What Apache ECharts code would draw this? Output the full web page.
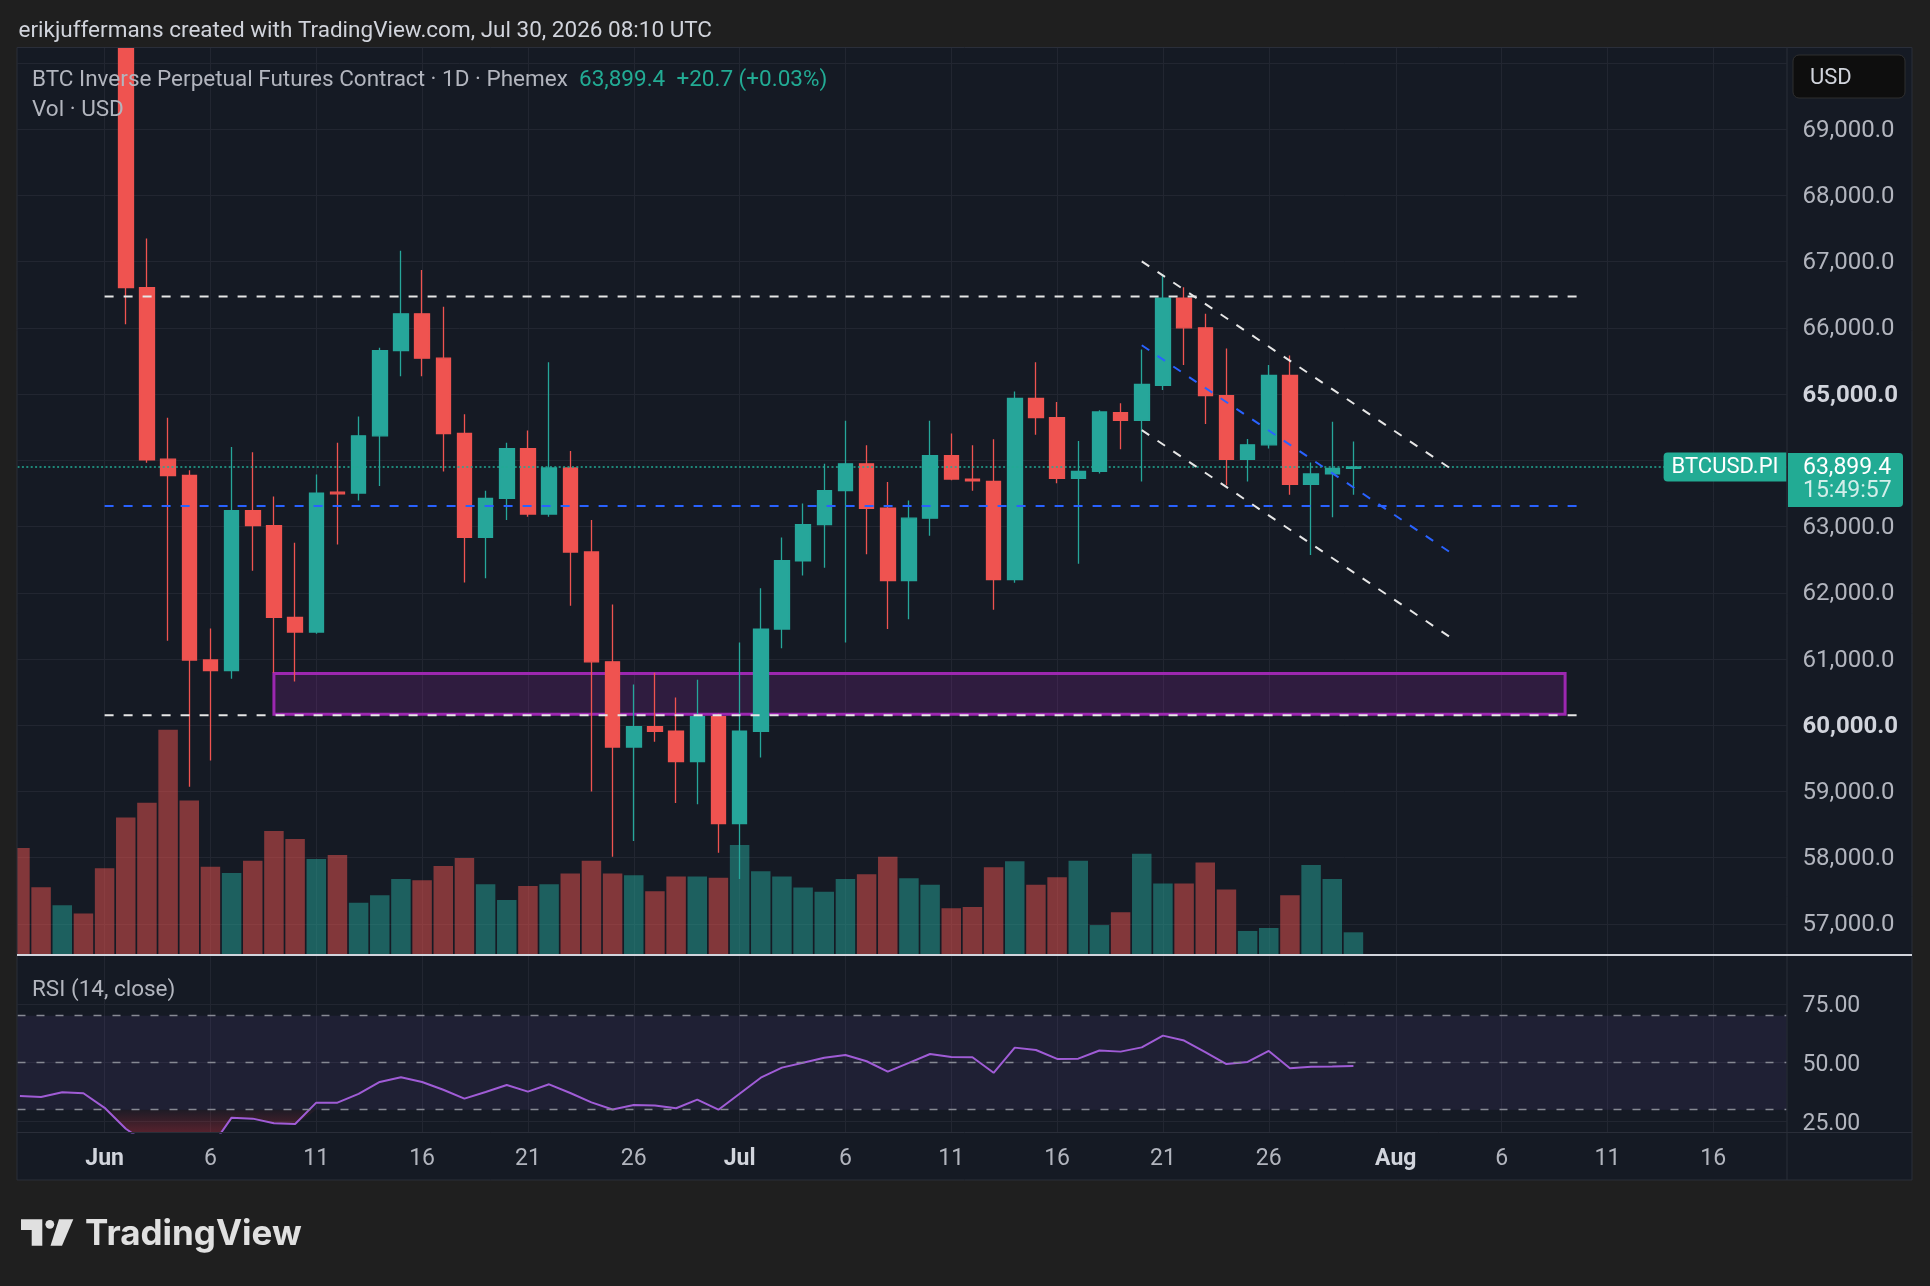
<!DOCTYPE html>
<html>
<head>
<meta charset="utf-8">
<title>BTCUSD.PI 1D</title>
<script src="https://cdn.jsdelivr.net/npm/echarts@6.0.0/dist/echarts.min.js"></script>
<style>
html, body { margin: 0; padding: 0; background: #1f1f1f; }
#main { width: 1930px; height: 1286px; }
</style>
</head>
<body>
<div id="main"></div>
<script>
// daily candles, May 28 .. Jul 30
var dates = [
  '2026-05-28','2026-05-29','2026-05-30','2026-05-31',
  '2026-06-01','2026-06-02','2026-06-03','2026-06-04','2026-06-05','2026-06-06','2026-06-07','2026-06-08','2026-06-09','2026-06-10',
  '2026-06-11','2026-06-12','2026-06-13','2026-06-14','2026-06-15','2026-06-16','2026-06-17','2026-06-18','2026-06-19','2026-06-20',
  '2026-06-21','2026-06-22','2026-06-23','2026-06-24','2026-06-25','2026-06-26','2026-06-27','2026-06-28','2026-06-29','2026-06-30',
  '2026-07-01','2026-07-02','2026-07-03','2026-07-04','2026-07-05','2026-07-06','2026-07-07','2026-07-08','2026-07-09','2026-07-10',
  '2026-07-11','2026-07-12','2026-07-13','2026-07-14','2026-07-15','2026-07-16','2026-07-17','2026-07-18','2026-07-19','2026-07-20',
  '2026-07-21','2026-07-22','2026-07-23','2026-07-24','2026-07-25','2026-07-26','2026-07-27','2026-07-28','2026-07-29','2026-07-30'
];
var opens = [
  72600, 72000, 71500, 71800,
  71400, 70950, 66610, 64018, 63771, 60985, 60826, 63242, 63013, 61628,
  61408, 63520, 63506, 64370, 65658, 66213, 65543, 64406, 62836, 63427,
  64176, 63189, 63885, 62616, 60958, 59671, 59980, 59909, 59450, 60129,
  58516, 59909, 61452, 62484, 63030, 63542, 63947, 63277, 62184, 63127,
  64071, 63718, 63683, 62201, 64935, 64644, 63727, 63833, 64720, 64605,
  65134, 66451, 66001, 64977, 64016, 64235, 65283, 63638, 63795, 63878.7
];
var closes = [
  72000, 71500, 71800, 71400,
  70950, 66610, 64009, 63771, 60985, 60826, 63242, 63013, 61628, 61408,
  63506, 63495, 64370, 65658, 66213, 65543, 64406, 62836, 63427, 64176,
  63189, 63885, 62616, 60958, 59671, 59980, 59909, 59450, 60129, 58516,
  59909, 61452, 62484, 63030, 63542, 63947, 63277, 62184, 63127, 64071,
  63718, 63690, 62201, 64935, 64644, 63727, 63833, 64732, 64605, 65147,
  66451, 66001, 64977, 64016, 64235, 65283, 63638, 63795, 63878.7, 63899.4
];
var lows = [
  71600, 71200, 71300, 71100,
  70600, 66054, 63965, 61276, 59071, 59468, 60702, 62334, 60791, 60659,
  61380, 62730, 63392, 63612, 65270, 65270, 63833, 62157, 62219, 63101,
  63150, 63150, 61805, 59000, 58013, 58251, 59750, 58824, 58807, 58075,
  57678, 59512, 61161, 62263, 62378, 61249, 62581, 61452, 61602, 62863,
  63700, 63542, 61743, 62150, 64388, 63656, 62439, 63800, 64167, 63681,
  65062, 65440, 64549, 63623, 63681, 64178, 63481, 62570, 63139, 63481
];
var highs = [
  72900, 72300, 72100, 72000,
  71600, 71100, 67350, 64644, 63850, 61461, 64203, 64124, 63453, 62757,
  63788, 64265, 64661, 65702, 67165, 66874, 66319, 64697, 63542, 64265,
  64450, 65481, 64141, 63101, 61822, 60614, 60791, 60420, 60685, 60173,
  61249, 62069, 62836, 63348, 63947, 64600, 64229, 63674, 63392, 64600,
  64406, 64229, 64317, 65040, 65481, 64882, 64291, 64758, 64862, 65673,
  66813, 66615, 66215, 65689, 64322, 65440, 65582, 63966, 64584, 64285
];
var volumes = [
  47.2, 29.9, 21.9, 18.3,
  38.2, 60.6, 67.1, 99.3, 68.1, 38.9, 36.1, 41.5, 54.7, 51.1,
  42.3, 44.1, 23.0, 26.3, 33.5, 33.0, 39.2, 42.8, 31.2, 24.2,
  30.4, 31.2, 35.9, 41.5, 35.9, 35.1, 28.1, 34.6, 34.6, 34.0,
  48.5, 36.9, 34.6, 29.7, 27.9, 33.5, 35.6, 43.3, 33.8, 31.0,
  20.6, 21.2, 38.7, 41.3, 31.0, 34.3, 41.5, 13.2, 18.8, 44.6,
  31.5, 31.5, 40.8, 28.9, 10.6, 11.9, 26.3, 39.7, 33.5, 10.0
];
var rsi = [
  35.8, 35.4, 37.4, 37.0,
  30.8, 21.9, 15.7, 12.0, 12.8, 13.7, 26.6, 26.2, 24.2, 23.9,
  33.0, 33.0, 36.7, 41.8, 43.8, 41.8, 38.5, 34.7, 37.5, 40.5,
  37.7, 40.8, 37.1, 33.1, 30.1, 32.0, 31.8, 30.6, 34.3, 30.0,
  36.8, 43.6, 47.9, 50.0, 52.1, 53.3, 50.6, 46.2, 49.9, 53.7,
  52.4, 52.3, 45.7, 56.4, 55.4, 51.6, 51.7, 55.2, 54.7, 56.5,
  61.5, 59.4, 54.5, 49.4, 50.3, 55.0, 47.6, 48.3, 48.4, 48.6
];

// axis ticks
var timeTicks = ['2026-06-01','2026-06-06','2026-06-11','2026-06-16','2026-06-21','2026-06-26',
  '2026-07-01','2026-07-06','2026-07-11','2026-07-16','2026-07-21','2026-07-26',
  '2026-08-01','2026-08-06','2026-08-11','2026-08-16'];
var priceGrid = [57000, 58000, 59000, 60000, 61000, 62000, 63000, 64000, 65000, 66000, 67000, 68000, 69000, 70000];
var priceLabels = [57000, 58000, 59000, 60000, 61000, 62000, 63000, 64000, 65000, 66000, 67000, 68000, 69000];
var rsiTicks = [25, 50, 75];
var rsiLevels = [70, 50, 30];

// drawings (x in days from Jun 1)
var levels = [66475, 63310, 60150];
var levelSpan = [0, 69.74];
var channelX = [49, 63.68];
var channelUpper = [67006, 63856];
var channelMid = [65738, 62588];
var channelLower = [64456, 61306];
var zoneX = [8, 69];
var zonePrice = [60167, 60780];
var countdown = '15:49:57';

var upColor = '#26a69a', downColor = '#ef5350', lastColor = '#22ab94';
var gridColor = '#222631';
var axisText = '#b2b5be';
var font = 'Roboto';

var day0 = Date.parse('2026-06-01');
function dayOf(s) { return (Date.parse(s) - day0) / 864e5; }
function fmtPrice(v) {
  return v.toLocaleString('en-US', { minimumFractionDigits: 1, maximumFractionDigits: 1 });
}
var months = ['Jan','Feb','Mar','Apr','May','Jun','Jul','Aug','Sep','Oct','Nov','Dec'];

var tickDays = timeTicks.map(dayOf);
var candleData = dates.map(function (d, i) { return [dayOf(d), opens[i], closes[i], lows[i], highs[i]]; });
var volData = dates.map(function (d, i) {
  return {
    value: [dayOf(d), volumes[i]],
    itemStyle: { color: closes[i] >= opens[i] ? 'rgba(38,166,154,0.5)' : 'rgba(239,83,80,0.5)' }
  };
});
var rsiData = dates.map(function (d, i) { return [dayOf(d), rsi[i]]; });
var rsiLowData = dates.map(function (d, i) { return [dayOf(d), Math.min(rsi[i], 30)]; });

var n = closes.length;
var lastClose = closes[n - 1];
var chg = lastClose - closes[n - 2];
var chgText = (chg >= 0 ? '+' : '') + chg.toFixed(1) + ' (' + (chg >= 0 ? '+' : '') + (chg / closes[n - 2] * 100).toFixed(2) + '%)';

// the price tag hides the scale labels it sits on
var shownPriceLabels = priceLabels.filter(function (v) { return Math.abs(v - lastClose) > 500; });

var x0 = -4.115, x1 = 79.46;

function dashed(pts, color) {
  return {
    type: 'line', xAxisIndex: 0, yAxisIndex: 0, data: pts, symbol: 'none', silent: true, z: 6,
    lineStyle: { color: color, width: 2, type: [9, 10] }
  };
}

var drawSeries = [];
levels.forEach(function (p, i) {
  drawSeries.push(dashed([[levelSpan[0], p], [levelSpan[1], p]], i === 1 ? '#2962ff' : '#e6e6e6'));
});
drawSeries.push(dashed([[channelX[0], channelUpper[0]], [channelX[1], channelUpper[1]]], '#e6e6e6'));
drawSeries.push(dashed([[channelX[0], channelMid[0]], [channelX[1], channelMid[1]]], '#2962ff'));
drawSeries.push(dashed([[channelX[0], channelLower[0]], [channelX[1], channelLower[1]]], '#e6e6e6'));

var chart = echarts.init(document.getElementById('main'));

// oversold fill gradient, in pixels of the RSI pane (30 -> pane bottom)
var osTop = 1109.7, osBottom = 1132.5;

var option = {
  animation: false,
  backgroundColor: '#151a24',
  grid: [
    { left: 17.5, top: 47.5, width: 1769, height: 907.5 },
    { left: 17.5, top: 955, width: 1769, height: 177.5 }
  ],
  xAxis: [
    {
      type: 'value', gridIndex: 0, min: x0, max: x1,
      axisLine: { show: false },
      axisTick: { show: false, customValues: tickDays },
      axisLabel: { show: false },
      splitLine: { show: true, lineStyle: { color: gridColor, width: 1 } }
    },
    {
      type: 'value', gridIndex: 1, min: x0, max: x1,
      axisLine: { show: false },
      axisTick: { show: false, customValues: tickDays },
      axisLabel: {
        customValues: tickDays, margin: 15, color: axisText, fontSize: 23, fontFamily: font,
        formatter: function (v) {
          var d = new Date(day0 + Math.round(v) * 864e5);
          if (d.getUTCDate() === 1) return '{m|' + months[d.getUTCMonth()] + '}';
          return String(d.getUTCDate());
        },
        rich: { m: { fontWeight: 'bold', color: '#d1d4dc', fontSize: 23, fontFamily: font } }
      },
      splitLine: { show: true, lineStyle: { color: gridColor, width: 1 } }
    }
  ],
  yAxis: [
    {
      type: 'value', gridIndex: 0, position: 'right', min: 56530, max: 70235,
      axisLine: { show: false },
      axisTick: { show: false, customValues: priceGrid },
      axisLabel: {
        customValues: shownPriceLabels, margin: 16, color: axisText, fontSize: 24, fontFamily: font,
        padding: [3, 0, 0, 0],
        formatter: function (v) {
          return v % 5000 === 0 ? '{b|' + fmtPrice(v) + '}' : fmtPrice(v);
        },
        rich: { b: { fontWeight: 'bold', color: '#d1d4dc', fontSize: 24, fontFamily: font } }
      },
      splitLine: { show: true, lineStyle: { color: gridColor, width: 1 } }
    },
    { type: 'value', gridIndex: 0, min: 0, max: 400, show: false, splitLine: { show: false } },
    {
      type: 'value', gridIndex: 1, position: 'right', min: 20.3, max: 95.8,
      axisLine: { show: false },
      axisTick: { show: false, customValues: rsiTicks },
      axisLabel: {
        customValues: rsiTicks, margin: 16, color: axisText, fontSize: 23, fontFamily: font,
        formatter: function (v) { return '{r|' + v.toFixed(2) + '}'; },
        rich: { r: { color: axisText, fontSize: 23, fontFamily: font, padding: [5, 0, 0, 0] } }
      },
      splitLine: { show: true, lineStyle: { color: gridColor, width: 1 } }
    }
  ],
  series: [
    {
      name: 'Vol', type: 'bar', xAxisIndex: 0, yAxisIndex: 1, data: volData, barWidth: 19.5, z: 1, silent: true
    },
    {
      name: 'BTCUSD.PI', type: 'candlestick', xAxisIndex: 0, yAxisIndex: 0, data: candleData,
      encode: { x: 0, y: [1, 2, 3, 4] }, barWidth: 15, z: 3, clip: true, silent: true,
      itemStyle: { color: upColor, color0: downColor, borderColor: upColor, borderColor0: downColor, borderWidth: 1.3 }
    },
    {
      name: 'last', type: 'line', xAxisIndex: 0, yAxisIndex: 0, data: [], z: 4,
      markLine: {
        silent: true, symbol: 'none', animation: false,
        data: [{
          yAxis: lastClose,
          lineStyle: { color: lastColor, width: 1.5, type: [2, 2.4] },
          label: {
            show: true, position: 'insideEnd', distance: 0, formatter: 'BTCUSD.PI',
            backgroundColor: lastColor, color: '#ffffff', fontSize: 22, fontFamily: font,
            lineHeight: 23, padding: [3, 8, 3, 8], borderRadius: [4, 0, 0, 4]
          }
        }]
      }
    },
    {
      name: 'zone', type: 'line', xAxisIndex: 0, yAxisIndex: 0, data: [], z: 7,
      markArea: {
        silent: true,
        itemStyle: { color: 'rgba(156,39,176,0.2)', borderColor: '#9c27b0', borderWidth: 3 },
        data: [[{ xAxis: zoneX[0], yAxis: zonePrice[1] }, { xAxis: zoneX[1], yAxis: zonePrice[0] }]]
      }
    }
  ].concat(drawSeries).concat([
    {
      name: 'rsiBand', type: 'line', xAxisIndex: 1, yAxisIndex: 2, data: [], z: 1,
      markArea: { silent: true, itemStyle: { color: 'rgba(126,87,194,0.1)' }, data: [[{ yAxis: 30 }, { yAxis: 70 }]] },
      markLine: {
        silent: true, symbol: 'none', label: { show: false },
        lineStyle: { color: '#868993', width: 1.4, type: [8, 11] },
        data: rsiLevels.map(function (v) { return { yAxis: v }; })
      }
    },
    {
      name: 'oversold', type: 'line', xAxisIndex: 1, yAxisIndex: 2, data: rsiLowData, symbol: 'none', z: 2, silent: true,
      lineStyle: { width: 0 },
      areaStyle: {
        origin: 30,
        color: new echarts.graphic.LinearGradient(0, osTop, 0, osBottom, [
          { offset: 0, color: 'rgba(242,54,69,0.06)' },
          { offset: 1, color: 'rgba(242,54,69,0.42)' }
        ], true)
      }
    },
    {
      name: 'RSI', type: 'line', xAxisIndex: 1, yAxisIndex: 2, data: rsiData, symbol: 'none', z: 3, silent: true,
      lineStyle: { color: '#a05cd6', width: 2 }
    }
  ]),
  graphic: [
    { type: 'rect', z: 100, silent: true, shape: { x: 0, y: 0, width: 1930, height: 47.5 }, style: { fill: '#1f1f1f' } },
    { type: 'rect', z: 100, silent: true, shape: { x: 0, y: 1180, width: 1930, height: 106 }, style: { fill: '#1f1f1f' } },
    { type: 'rect', z: 100, silent: true, shape: { x: 0, y: 0, width: 17, height: 1286 }, style: { fill: '#1f1f1f' } },
    { type: 'rect', z: 100, silent: true, shape: { x: 1912, y: 0, width: 18, height: 1286 }, style: { fill: '#1f1f1f' } },
    { type: 'rect', z: 101, silent: true, shape: { x: 17, y: 47.5, width: 1895, height: 1132.5 }, style: { fill: 'none', stroke: '#2a2e39', lineWidth: 1 } },
    { type: 'line', z: 101, silent: true, shape: { x1: 1787, y1: 47.5, x2: 1787, y2: 1180 }, style: { stroke: '#2a2e39', lineWidth: 1 } },
    { type: 'line', z: 101, silent: true, shape: { x1: 17, y1: 1132.5, x2: 1912, y2: 1132.5 }, style: { stroke: '#2a2e39', lineWidth: 1 } },
    { type: 'line', z: 101, silent: true, shape: { x1: 17, y1: 955, x2: 1912, y2: 955 }, style: { stroke: '#d1d4dc', lineWidth: 2 } },
    {
      type: 'text', z: 102, silent: true,
      style: { x: 18.5, y: 31.5, text: 'erikjuffermans created with TradingView.com, Jul 30, 2026 08:10 UTC', fill: '#d1d4dc', fontSize: 22.5, fontFamily: font, verticalAlign: 'middle' }
    },
    {
      type: 'text', z: 102, silent: true,
      style: {
        x: 32, y: 80.5, verticalAlign: 'middle', fontSize: 22.5, fontFamily: font,
        text: '{a|BTC Inverse Perpetual Futures Contract · 1D · Phemex}  {b|' + fmtPrice(lastClose) + '}  {b|' + chgText + '}',
        rich: {
          a: { fill: '#b2b5be', fontSize: 22.5, fontFamily: font },
          b: { fill: lastColor, fontSize: 22.5, fontFamily: font }
        }
      }
    },
    { type: 'text', z: 102, silent: true, style: { x: 32, y: 110.5, text: 'Vol · USD', fill: '#b2b5be', fontSize: 22.5, fontFamily: font, verticalAlign: 'middle' } },
    { type: 'text', z: 102, silent: true, style: { x: 32, y: 990.5, text: 'RSI (14, close)', fill: '#b2b5be', fontSize: 22.5, fontFamily: font, verticalAlign: 'middle' } },
    { type: 'rect', z: 102, silent: true, shape: { x: 1793, y: 55, width: 112, height: 43, r: 6 }, style: { fill: '#0e0e0e', stroke: '#2f2f2f', lineWidth: 1 } },
    { type: 'text', z: 103, silent: true, style: { x: 1810, y: 78.5, text: 'USD', fill: '#d1d4dc', fontSize: 22, fontFamily: font, verticalAlign: 'middle' } },
    // TradingView logo
    { type: 'polygon', z: 102, silent: true, shape: { points: [[21, 1219.3], [42.3, 1219.3], [42.3, 1245.7], [31.7, 1245.7], [31.7, 1230], [21, 1230]] }, style: { fill: '#e0e0e0' } },
    { type: 'circle', z: 102, silent: true, shape: { cx: 49.8, cy: 1224.3, r: 4.4 }, style: { fill: '#e0e0e0' } },
    { type: 'polygon', z: 102, silent: true, shape: { points: [[59, 1219.3], [73.3, 1219.3], [62, 1245.7], [50.5, 1245.7]] }, style: { fill: '#e0e0e0' } },
    { type: 'text', z: 102, silent: true, style: { x: 85, y: 1234, text: 'TradingView', fill: '#e0e0e0', fontSize: 35, fontWeight: 'bold', fontFamily: 'Inter', verticalAlign: 'middle' } }
  ]
};

chart.setOption(option);

// last price tag on the price scale
var py = chart.convertToPixel({ yAxisIndex: 0 }, lastClose);
option.graphic.push(
  { type: 'rect', z: 104, silent: true, shape: { x: 1788, y: py - 14, width: 115, height: 54, r: [0, 4, 4, 0] }, style: { fill: lastColor } },
  { type: 'text', z: 105, silent: true, style: { x: 1803, y: py + 1.5, text: fmtPrice(lastClose), fill: '#ffffff', fontSize: 23, fontFamily: font, verticalAlign: 'middle' } },
  { type: 'text', z: 105, silent: true, style: { x: 1803, y: py + 24, text: countdown, fill: 'rgba(255,255,255,0.8)', fontSize: 23, fontFamily: font, verticalAlign: 'middle' } }
);
chart.setOption(option);
</script>
</body>
</html>
